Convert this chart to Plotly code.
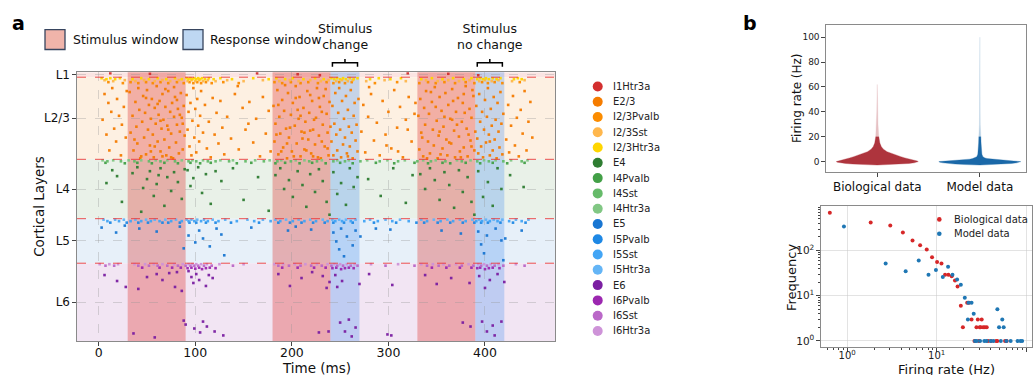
import math
import plotly.graph_objects as go

# ---------------- data ----------------
layer_names = ["L1", "L2/3", "L4", "L5", "L6"]
layer_bounds = [0, 5, 88, 148, 193, 272]          # neuron rank boundaries (top -> bottom)
stim_windows = [(30, 90), (180, 240), (330, 390)]  # ms
resp_windows = [(240, 270), (390, 420)]            # ms
time_ticks = [0, 100, 200, 300, 400]

cell_types = ["I1Htr3a", "E2/3", "I2/3Pvalb", "I2/3Sst", "I2/3Htr3a", "E4", "I4Pvalb", "I4Sst",
              "I4Htr3a", "E5", "I5Pvalb", "I5Sst", "I5Htr3a", "E6", "I6Pvalb", "I6Sst", "I6Htr3a"]
cell_colors = ["#d32f2f", "#f57c00", "#fb8c00", "#ffb74d", "#ffd600", "#2e7d32", "#43a047", "#66bb6a",
               "#81c784", "#1976d2", "#1e88e5", "#42a5f5", "#64b5f6", "#7b1fa2", "#9c27b0", "#ba68c8", "#ce93d8"]

# spikes: (time ms, neuron rank)
spk_I1Htr3a = [(12,1),(53,1.5),(164,1),(206,2),(229,3),(320,1),(362,1.5),(393,3)]
spk_I23Htr3a = [(3,6),(8,7),(12,6),(17,7),(22,6),(35,7),(44,6),(52,7),(61,6),(70,7),(79,6),(86,7),(91,6),(93,7),(95,6),(97,7),(99,6),(101,7),(103,6),(105,7),(107,6),(110,7),(114,6),(119,7),(126,6),(138,7),(160,6),(176,7),(184,6),(193,7),(201,6),(212,7),(224,6),(233,7),(241,6),(244,7),(247,6),(250,7),(253,6),(256,7),(260,6),(264,7),(268,6),(281,7),(290,6),(302,7),(313,6),(334,7),(345,6),(356,7),(367,6),(378,7),(386,6),(392,7),(395,6),(398,7),(401,6),(404,7),(408,6),(412,7),(416,6),(430,7),(434,6),(438,7)]
spk_I23Sst = [(6,8),(15,9),(27,8),(38,9),(47,8),(58,9),(66,8),(74,9),(83,8),(92,9),(96,8),(100,9),(104,8),(108,9),(113,8),(121,9),(133,8),(150,9),(170,8),(187,9),(198,8),(207,9),(219,8),(230,9),(238,8),(246,9),(252,8),(258,9),(263,8),(277,9),(296,8),(318,9),(339,8),(351,9),(362,8),(373,9),(384,8),(394,9),(400,8),(407,9),(414,8),(428,9),(441,8)]
spk_I23Pvalb = [(10,10),(25,11),(33,10),(41,11),(49,10),(56,11),(64,10),(72,11),(81,10),(88,11),(94,10),(98,11),(102,10),(106,11),(111,10),(117,11),(129,10),(145,11),(182,10),(190,11),(199,10),(209,11),(217,10),(227,11),(236,10),(243,11),(249,10),(255,11),(262,10),(286,11),(309,10),(332,11),(341,10),(349,11),(358,10),(369,11),(380,10),(389,11),(397,10),(403,11),(410,10),(418,11),(436,10)]
spk_E23 = [
    (4,48),(6,22),(8,63),(10,31),(11,79),(13,40),(14,16),(16,57),(18,70),(19,27),(21,44),(23,84),(24,53),(26,35),(28,66),(29,19),
    (32,20),(33,61),(35,44),(36,79),(38,30),(39,55),(40,72),(41,16),(42,38),(44,85),(45,50),(46,24),(47,66),(48,41),(49,83),(50,18),(51,58),(52,33),(53,74),(54,47),(55,27),(56,63),(57,86),(58,36),(59,52),(60,14),(61,70),(62,43),(63,29),(64,80),(65,57),(66,22),(67,48),(68,68),(69,35),(70,84),(71,54),(72,19),(73,76),(74,40),(75,62),(76,31),(77,87),(78,45),(79,25),(80,71),(81,53),(82,37),(83,82),(84,60),(85,21),(86,46),(87,78),(88,34),(89,64),(37,68),(43,87),(54,80),(61,32),(66,85),(72,58),(78,15),(84,43),(58,75),(49,26),(64,49),(75,86),(81,28),(87,52),(69,17),
    (91,23),(92,58),(93,40),(94,75),(95,31),(96,84),(97,49),(98,16),(99,66),(100,37),(101,81),(102,27),(103,54),(104,70),(105,44),(106,19),(108,61),(110,33),(112,77),(114,50),(116,86),(118,26),(120,63),(122,41),(124,72),(126,29),(128,56),(130,83),
    (133,45),(137,67),(141,22),(145,78),(149,36),(152,58),(156,30),(160,71),(163,47),(167,85),(170,25),(173,62),(176,39),(178,80),(155,52),(144,14),
    (181,34),(182,70),(183,52),(185,18),(186,83),(187,45),(188,62),(190,28),(191,76),(192,39),(194,57),(195,87),(196,21),(197,66),(199,43),(200,80),(201,31),(203,54),(204,14),(205,72),(207,47),(208,25),(209,85),(210,60),(212,36),(213,78),(214,50),(216,19),(217,68),(218,41),(220,82),(221,29),(222,58),(224,73),(225,46),(226,16),(228,64),(229,35),(230,87),(232,53),(233,24),(234,75),(236,42),(237,61),(238,84),(239,30),(184,63),(189,80),(193,13),(198,56),(202,85),(206,38),(211,67),(215,79),(219,23),(223,48),(227,86),(231,70),(235,17),(240,55),(186,33),(209,44),(219,59),(228,26),(237,77),(195,72),(204,26),(213,61),(222,85),(231,40),
    (241,70),(242,34),(243,84),(244,52),(245,21),(246,63),(247,79),(248,41),(249,16),(250,58),(251,86),(252,29),(253,73),(254,47),(255,66),(256,24),(257,82),(258,38),(259,55),(260,75),(261,18),(262,61),(263,87),(264,44),(265,31),(266,69),(267,53),(268,80),(269,27),(258,85),
    (272,60),(274,33),(276,81),(279,45),(282,22),(285,69),(288,51),(291,84),(294,29),(297,63),(300,40),(303,77),(306,18),(309,56),(312,35),(315,86),(318,48),(321,25),(324,70),(327,42),(280,15),(298,74),(310,80),(320,58),(328,31),
    (331,44),(332,78),(333,27),(334,61),(336,85),(337,36),(338,53),(339,19),(341,70),(342,42),(343,82),(345,30),(346,58),(347,74),(348,15),(350,49),(351,87),(352,64),(353,25),(355,39),(356,77),(357,55),(359,21),(360,68),(361,84),(362,33),(364,47),(365,72),(366,17),(368,59),(369,86),(370,40),(372,26),(373,65),(374,80),(376,50),(377,31),(378,76),(380,14),(381,57),(382,85),(384,37),(385,69),(386,46),(388,24),(389,79),(390,60),(335,66),(344,20),(349,35),(354,83),(358,45),(363,71),(367,29),(371,53),(375,86),(379,41),(383,63),(387,18),(340,87),(353,60),(366,48),(378,22),(386,75),
    (391,34),(392,67),(393,82),(394,22),(395,50),(396,75),(397,40),(398,86),(399,58),(400,28),(401,71),(402,45),(403,16),(404,63),(405,84),(406,37),(407,54),(408,79),(409,25),(410,68),(411,48),(412,87),(413,31),(414,60),(415,76),(416,20),(417,52),(418,83),(419,42),(405,70),
    (422,68),(424,33),(425,81),(427,54),(429,24),(431,74),(433,46),(435,85),(437,38),(439,62),(441,19),(443,79),(445,50),(447,30),(449,66)]
spk_I4Htr3a = [(4,89),(15,89),(31,89),(44,89),(59,89),(71,89),(86,89),(97,89),(108,89),(126,89),(139,89),(162,89),(177,89),(189,89),(204,89),(213,89),(231,89),(247,89),(259,89),(278,89),(299,89),(317,89),(336,89),(349,89),(371,89),(385,89),(399,89),(411,89),(427,89),(444,89)]
spk_I4Sst = [(9,90),(23,90),(37,90),(52,90),(64,90),(79,90),(93,90),(101,90),(113,90),(121,90),(135,90),(152,90),(171,90),(185,90),(199,90),(218,90),(226,90),(243,90),(255,90),(271,90),(291,90),(310,90),(330,90),(344,90),(359,90),(376,90),(392,90),(404,90),(419,90),(438,90)]
spk_I4Pvalb = [(7,91.5),(27,92),(40,91.5),(55,92),(68,91.5),(82,92),(95,91.5),(105,92),(116,91.5),(143,92),(158,91.5),(183,92),(193,91.5),(208,92),(221,91.5),(235,92),(250,91.5),(263,92),(287,91.5),(306,92),(327,91.5),(341,92),(356,91.5),(364,92),(380,91.5),(395,92),(408,91.5),(423,92),(441,91.5)]
spk_E4 = [(8,112),(14,99),(19,105),(24,131),
    (35,102),(40,96),(46,117),(50,108),(53,100),(57,125),(60,113),(64,97),(68,135),(71,106),(75,120),(78,101),(82,111),(86,128),(89,98),(44,141),(62,104),
    (92,99),(95,115),(98,107),(103,96),(107,122),(111,103),(116,133),(121,100),(127,110),(139,97),(150,129),(165,106),(176,140),
    (183,104),(188,97),(192,118),(197,109),(201,126),(206,100),(211,114),(215,136),(219,103),(224,121),(228,98),(232,110),(236,131),(239,144),
    (243,101),(247,123),(251,112),(256,134),(260,97),(264,116),(268,106),
    (279,108),(292,125),(305,97),(318,132),(325,104),
    (333,103),(338,118),(343,97),(348,109),(353,129),(358,101),(363,114),(368,137),(373,99),(377,121),(382,106),(386,131),(389,144),
    (393,100),(398,126),(403,111),(408,135),(413,97),(417,118),(426,104),(440,116)]
spk_I5Htr3a = [(5,149),(17,149),(26,149),(38,149),(49,149),(58,149),(69,149),(80,149),(91,149),(96,149),(102,149),(109,149),(118,149),(131,149),(154,149),(170,149),(183,149),(194,149),(207,149),(219,149),(232,149),(242,149),(249,149),(256,149),(266,149),(281,149),(297,149),(312,149),(334,149),(347,149),(361,149),(374,149),(387,149),(394,149),(401,149),(409,149),(418,149),(432,149),(445,149)]
spk_I5Sst = [(9,150.5),(21,150.5),(33,150.5),(44,150.5),(54,150.5),(63,150.5),(75,150.5),(86,150.5),(93,150.5),(99,150.5),(106,150.5),(113,150.5),(124,150.5),(143,150.5),(161,150.5),(178,150.5),(188,150.5),(201,150.5),(213,150.5),(225,150.5),(237,150.5),(245,150.5),(252,150.5),(261,150.5),(275,150.5),(289,150.5),(304,150.5),(321,150.5),(340,150.5),(354,150.5),(367,150.5),(380,150.5),(391,150.5),(397,150.5),(405,150.5),(413,150.5),(425,150.5),(438,150.5)]
spk_I5Pvalb = [(12,152),(29,152),(41,152),(51,152),(66,152),(72,152),(84,152),(94,152),(101,152),(111,152),(121,152),(137,152),(166,152),(186,152),(198,152),(210,152),(222,152),(234,152),(243,152),(254,152),(263,152),(285,152),(308,152),(329,152),(337,152),(351,152),(364,152),(377,152),(389,152),(396,152),(403,152),(416,152),(429,152),(442,152)]
spk_E5 = [(3,157),(18,162),(27,155),(42,158),(60,161),(84,156),(88,178),(93,165),(100,172),(104,160),(108,168),(115,176),(122,158),(127,164),(130,185),(158,157),(196,160),(204,156),(220,159),(243,162),(246,171),(249,179),(251,158),(254,186),(257,166),(263,175),(266,160),(271,166),(287,158),(302,159),(355,160),(375,163),(393,161),(396,174),(399,183),(402,165),(411,158),(417,170),(419,190),(421,168),(438,160)]
spk_I6Htr3a = [(1,194),(11,194),(20,194),(37,194),(48,194),(57,194),(66,194),(78,194),(87,194),(93,194),(97,194),(101,194),(106,194),(112,194),(125,194),(150,194),(182,194),(191,194),(203,194),(214,194),(226,194),(237,194),(244,194),(250,194),(257,194),(265,194),(282,194),(310,194),(334,194),(346,194),(357,194),(370,194),(383,194),(393,194),(399,194),(406,194),(414,194),(432,194)]
spk_I6Sst = [(7,195.5),(16,195.5),(41,195.5),(52,195.5),(61,195.5),(71,195.5),(82,195.5),(90,195.5),(95,195.5),(99,195.5),(103,195.5),(109,195.5),(117,195.5),(139,195.5),(186,195.5),(197,195.5),(209,195.5),(220,195.5),(231,195.5),(241,195.5),(247,195.5),(253,195.5),(261,195.5),(268,195.5),(297,195.5),(327,195.5),(340,195.5),(352,195.5),(363,195.5),(376,195.5),(388,195.5),(396,195.5),(402,195.5),(410,195.5),(419,195.5),(441,195.5)]
spk_I6Pvalb = [(45,197.5),(63,197.5),(76,197.5),(85,197.5),(92,198),(96,197.5),(100,198.5),(104,197.5),(107,199),(111,198),(115,197.5),(121,198),(190,197.5),(206,197.5),(223,197.5),(235,197.5),(242,198),(246,197.5),(251,199),(255,198),(259,197.5),(264,198),(345,197.5),(360,197.5),(374,197.5),(386,197.5),(392,198),(395,197.5),(400,199),(404,198),(408,197.5),(415,198)]
spk_E6 = [(6,205),(19,211),(28,217),(36,264),(41,219),(50,207),(58,268),(60,204),(66,210),(73,203),(79,217),(81,202),(86,221),(88,251),(90,255),(93,201),(96,207),(98,213),(101,204),(104,210),(99,259),(105,263),(108,252),(111,216),(114,205),(112,257),(118,208),(120,262),(129,266),(186,204),(198,216),(210,208),(221,202),(228,263),(232,206),(236,218),(238,262),(239,212),(245,205),(247,217),(252,211),(250,253),(255,262),(259,250),(262,267),(266,258),(270,214),(280,204),(299,265),(303,266),(304,215),(338,205),(350,214),(365,208),(377,253),(384,213),(385,257),(394,206),(397,252),(400,218),(402,262),(405,210),(408,256),(410,266),(413,204),(417,252),(420,212)]

spikes_by_type = {
    "I1Htr3a": spk_I1Htr3a, "E2/3": spk_E23, "I2/3Pvalb": spk_I23Pvalb, "I2/3Sst": spk_I23Sst,
    "I2/3Htr3a": spk_I23Htr3a, "E4": spk_E4, "I4Pvalb": spk_I4Pvalb, "I4Sst": spk_I4Sst,
    "I4Htr3a": spk_I4Htr3a, "E5": spk_E5, "I5Pvalb": spk_I5Pvalb, "I5Sst": spk_I5Sst,
    "I5Htr3a": spk_I5Htr3a, "E6": spk_E6, "I6Pvalb": spk_I6Pvalb, "I6Sst": spk_I6Sst, "I6Htr3a": spk_I6Htr3a,
}

# violin outlines: firing rate (Hz) and half width (category units)
violin_cats = ["Biological data", "Model data"]
bio_rate = [-2.8, -2.4, -2.0, -1.5, -1.0, -0.5, 0, 0.5, 1, 2, 3, 4, 5, 6, 7, 8, 10, 12, 15, 18, 20, 25, 30, 40, 50, 62]
bio_hw = [0, 0.14, 0.24, 0.31, 0.36, 0.39, 0.40, 0.39, 0.36, 0.31, 0.27, 0.23, 0.20, 0.16, 0.125, 0.095, 0.06, 0.04, 0.025, 0.018, 0.015, 0.01, 0.007, 0.005, 0.003, 0]
model_rate = [-2.8, -2.4, -2.0, -1.5, -1.0, -0.5, 0, 0.5, 1, 1.5, 2, 2.5, 3, 4, 6, 8, 10, 15, 20, 25, 30, 40, 60, 80, 100]
model_hw = [0, 0.14, 0.24, 0.31, 0.36, 0.39, 0.40, 0.33, 0.24, 0.16, 0.10, 0.07, 0.05, 0.03, 0.02, 0.017, 0.015, 0.012, 0.01, 0.006, 0.004, 0.003, 0.002, 0.0015, 0]
violin_fade_from = 20  # Hz; thin upper tail drawn faded

# firing-rate histogram (log-log)
bio_fr = [0.64, 1.83, 3.03, 4.19, 5.37, 6.53, 7.74, 8.87, 10.1, 11.3, 12.4, 13.5, 14.7, 16.0, 17.1, 18.6, 19.6, 21.9, 23.0, 24.5, 26.4, 27.8, 28.8, 29.6, 30.2, 31.0, 31.8, 33.0, 34.5, 36.2, 37.5, 40.5, 46.0, 47.5, 58.0, 60.5]
bio_freq = [690, 418, 358, 251, 168, 131, 105, 71, 56, 52, 29, 29, 27, 21.7, 16, 6, 2, 7, 7, 3, 1, 2, 3, 1, 2, 2, 3, 2, 2, 2, 1, 1, 1, 1, 1, 1]
model_fr = [0.92, 2.69, 4.5, 6.3, 8.1, 9.8, 11.7, 13.4, 15.0, 16.9, 18.6, 20.6, 22.3, 22.6, 24.5, 25.9, 26.8, 28.0, 30.5, 34.0, 36.0, 40.0, 43.0, 47.6, 49.7, 52.0, 54.0, 56.0, 60.0, 67.0, 80.0, 86.0, 90.0]
model_freq = [340, 52, 35, 60, 29, 37, 26, 44, 29, 23, 17.5, 9, 3, 7, 7, 4, 1, 1, 1, 1, 1, 1, 1, 5, 2, 1, 3, 2, 1, 1, 1, 1, 1]

# ---------------- layout helpers ----------------
W, H = 1034, 375
def px(x):
    return x / W
def py(y):
    return 1 - y / H

FONT = "DejaVu Sans"
SPINE = "#8a8a8a"
fig = go.Figure()

# ---------------- panel a : raster ----------------
for name, color in zip(cell_types, cell_colors):
    pts = spikes_by_type[name]
    fig.add_trace(go.Scatter(
        x=[p[0] for p in pts], y=[p[1] for p in pts], mode="markers",
        marker=dict(symbol="square", size=2.6, color=color, line=dict(width=0)),
        opacity=0.95, showlegend=False, name=name, xaxis="x", yaxis="y", hoverinfo="skip"))

layer_fill = ["#fbe4e2", "#fdf0e2", "#e9f1e8", "#e7f0f9", "#f2e5f3"]
shapes = []
for i in range(len(layer_names)):
    shapes.append(dict(type="rect", xref="x domain", yref="y", x0=0, x1=1,
                       y0=layer_bounds[i], y1=layer_bounds[i + 1],
                       fillcolor=layer_fill[i], line=dict(width=0), layer="below"))
for (a, b) in stim_windows:
    shapes.append(dict(type="rect", xref="x", yref="y domain", x0=a, x1=b, y0=0, y1=1,
                       fillcolor="rgba(222,60,58,0.36)", line=dict(width=0), layer="below"))
for (a, b) in resp_windows:
    shapes.append(dict(type="rect", xref="x", yref="y domain", x0=a, x1=b, y0=0, y1=1,
                       fillcolor="rgba(100,160,240,0.36)", line=dict(width=0), layer="below"))
for yb in layer_bounds[1:-1]:
    shapes.append(dict(type="line", xref="x domain", yref="y", x0=0, x1=1, y0=yb, y1=yb,
                       line=dict(color="rgba(235,50,50,0.85)", width=1, dash="dash"), layer="above"))

# brackets above response windows
for (a, b) in resp_windows:
    m = (a + b) / 2
    a2, b2 = a + 2, b - 2
    path = (f"M {a2},{py(63.5)} L {a2},{py(59.5)} L {b2},{py(59.5)} L {b2},{py(63.5)} "
            f"M {m},{py(59.5)} L {m},{py(55.5)}")
    shapes.append(dict(type="path", xref="x", yref="paper", path=path,
                       line=dict(color="black", width=1.5)))

# top legend squares
shapes.append(dict(type="rect", xref="paper", yref="paper", x0=px(45), x1=px(65), y0=py(46), y1=py(26),
                   fillcolor="rgb(240,180,170)", line=dict(color="#37455f", width=1.3)))
shapes.append(dict(type="rect", xref="paper", yref="paper", x0=px(183), x1=px(203), y0=py(46), y1=py(26),
                   fillcolor="rgb(190,215,242)", line=dict(color="#37455f", width=1.3)))

annotations = []
annotations.append(dict(text="Stimulus window", x=px(71), y=py(36), xref="paper", yref="paper",
                        xanchor="left", yanchor="middle", showarrow=False, font=dict(size=12.5, color="#111")))
annotations.append(dict(text="Response window", x=px(208), y=py(36), xref="paper", yref="paper",
                        xanchor="left", yanchor="middle", showarrow=False, font=dict(size=12.5, color="#111")))
resp_labels = ["Stimulus<br>change", "Stimulus<br>no change"]
for (a, b), lab in zip(resp_windows, resp_labels):
    annotations.append(dict(text=lab, x=(a + b) / 2, y=py(33), xref="x", yref="paper",
                            xanchor="center", yanchor="middle", showarrow=False,
                            font=dict(size=12.5, color="#111")))
annotations.append(dict(text="<b>a</b>", x=px(10), y=py(19), xref="paper", yref="paper",
                        xanchor="left", yanchor="middle", showarrow=False, font=dict(size=19, color="black")))
annotations.append(dict(text="<b>b</b>", x=px(741), y=py(19), xref="paper", yref="paper",
                        xanchor="left", yanchor="middle", showarrow=False, font=dict(size=19, color="black")))
annotations.append(dict(text="Time (ms)", x=px(316), y=py(368), xref="paper", yref="paper",
                        xanchor="center", yanchor="middle", showarrow=False, font=dict(size=13.5, color="#111")))
annotations.append(dict(text="Cortical Layers", x=px(39), y=py(205), xref="paper", yref="paper",
                        xanchor="center", yanchor="middle", textangle=-90, showarrow=False,
                        font=dict(size=13.5, color="#111")))

# cell type legend
for i, (name, color) in enumerate(zip(cell_types, cell_colors)):
    yc = 83.3 + i * 15.45
    shapes.append(dict(type="circle", xref="paper", yref="paper", xsizemode="pixel", ysizemode="pixel",
                       xanchor=px(597.7), yanchor=py(yc), x0=-5, x1=5, y0=-5, y1=5,
                       fillcolor=color, line=dict(width=0)))
    annotations.append(dict(text=name, x=px(611), y=py(yc), xref="paper", yref="paper",
                            xanchor="left", yanchor="middle", showarrow=False, font=dict(size=10, color="#222")))

# ---------------- panel b top : violins ----------------
vcolors = ["#ae343d", "#1a68a8"]
for k, (rates, hws) in enumerate([(bio_rate, bio_hw), (model_rate, model_hw)]):
    body = [(r, h) for r, h in zip(rates, hws) if r <= violin_fade_from]
    tail = [(r, h) for r, h in zip(rates, hws) if r >= violin_fade_from]
    for part, op in [(body, 1.0), (tail, 0.3)]:
        xs = [k + h for r, h in part] + [k - h for r, h in reversed(part)]
        ys = [r for r, h in part] + [r for r, h in reversed(part)]
        fig.add_trace(go.Scatter(x=xs, y=ys, fill="toself", fillcolor=vcolors[k], mode="lines",
                                 line=dict(width=0.3, color=vcolors[k]), showlegend=False, opacity=op,
                                 xaxis="x2", yaxis="y2", hoverinfo="skip"))
annotations.append(dict(text="Firing rate (Hz)", x=px(797), y=py(95), xref="paper", yref="paper",
                        xanchor="center", yanchor="middle", textangle=-90, showarrow=False,
                        font=dict(size=12, color="#111")))

# ---------------- panel b bottom : log-log ----------------
fig.add_trace(go.Scatter(x=bio_fr, y=bio_freq, mode="markers", name="Biological data",
                         marker=dict(size=4, color="#d62728"), showlegend=False, xaxis="x3", yaxis="y3"))
fig.add_trace(go.Scatter(x=model_fr, y=model_freq, mode="markers", name="Model data",
                         marker=dict(size=4, color="#1f77b4"), showlegend=False, xaxis="x3", yaxis="y3"))
for lab, col, yc in [("Biological data", "#d62728", 217.7), ("Model data", "#1f77b4", 232.3)]:
    shapes.append(dict(type="circle", xref="paper", yref="paper", xsizemode="pixel", ysizemode="pixel",
                       xanchor=px(939.3), yanchor=py(yc), x0=-2.3, x1=2.3, y0=-2.3, y1=2.3,
                       fillcolor=col, line=dict(width=0)))
    annotations.append(dict(text=lab, x=px(952), y=py(yc), xref="paper", yref="paper",
                            xanchor="left", yanchor="middle", showarrow=False, font=dict(size=10, color="#222")))
annotations.append(dict(text="Frequency", x=px(791), y=py(277), xref="paper", yref="paper",
                        xanchor="center", yanchor="middle", textangle=-90, showarrow=False,
                        font=dict(size=13, color="#111")))
annotations.append(dict(text="Firing rate (Hz)", x=px(946), y=py(369), xref="paper", yref="paper",
                        xanchor="center", yanchor="middle", showarrow=False, font=dict(size=13, color="#111")))

layer_centers = [(layer_bounds[i] + layer_bounds[i + 1]) / 2 for i in range(len(layer_names))]
axis_common = dict(showline=True, mirror=True, linecolor=SPINE, linewidth=1.2, zeroline=False,
                   ticks="outside", ticklen=3.5, tickcolor="#444", tickwidth=1)

minor_x = [0.6, 0.7, 0.8, 0.9] + [d for d in range(2, 10)] + [d * 10 for d in range(2, 10)]
minor_y = [d for d in range(2, 10)] + [d * 10 for d in range(2, 10)] + [d * 100 for d in range(2, 10)]

fig.update_layout(
    width=W, height=H, autosize=False, margin=dict(l=0, r=0, t=0, b=0),
    paper_bgcolor="white", plot_bgcolor="white",
    font=dict(family=FONT, color="#222"),
    showlegend=False,
    xaxis=dict(domain=[px(77), px(555)], range=[-22.5, 472.5], tickvals=time_ticks,
               tickfont=dict(size=12.5, color="#111"), showgrid=True, ticklabelstandoff=-4,
               gridcolor="rgba(150,150,150,0.35)", griddash="dash", gridwidth=0.8, anchor="y", **axis_common),
    yaxis=dict(domain=[py(341), py(69)], range=[272, 0], tickvals=layer_centers, ticktext=layer_names,
               tickfont=dict(size=12, color="#111"), showgrid=True,
               gridcolor="rgba(150,150,150,0.35)", griddash="dash", gridwidth=0.8, anchor="x", **axis_common),
    xaxis2=dict(domain=[px(826), px(1026)], range=[-0.5, 1.45], tickvals=[0, 1], ticktext=violin_cats,
                tickfont=dict(size=12, color="#111"), showgrid=False, anchor="y2", **axis_common),
    yaxis2=dict(domain=[py(170), py(21)], range=[-8.5, 110], tickvals=[0, 20, 40, 60, 80, 100],
                tickfont=dict(size=9, color="#222"), showgrid=False, anchor="x2", **axis_common),
    xaxis3=dict(domain=[px(821), px(1032)], type="log", range=[math.log10(0.51), math.log10(116)],
                tickvals=[1, 10, 100], ticktext=["10<sup>0</sup>", "10<sup>1</sup>", "10<sup>2</sup>"],
                tickfont=dict(size=10, color="#222"), showgrid=True, gridcolor="rgba(200,200,200,0.5)",
                ticklabelstandoff=-5,
                minor=dict(tickvals=minor_x, ticks="outside", ticklen=2, tickcolor="#444", showgrid=False),
                anchor="y3", **axis_common),
    yaxis3=dict(domain=[py(347), py(204)], type="log", range=[-0.14, 2.99],
                tickvals=[1, 10, 100], ticktext=["10<sup>0</sup>", "10<sup>1</sup>", "10<sup>2</sup>"],
                tickfont=dict(size=10.5, color="#222"), showgrid=True, gridcolor="rgba(200,200,200,0.5)",
                minor=dict(tickvals=minor_y, ticks="outside", ticklen=2, tickcolor="#444", showgrid=False),
                anchor="x3", **axis_common),
    shapes=shapes, annotations=annotations,
)

fig.write_html("out.html", config={"displayModeBar": False},
               post_script="document.body.style.margin='0px';document.body.style.overflow='hidden';")
